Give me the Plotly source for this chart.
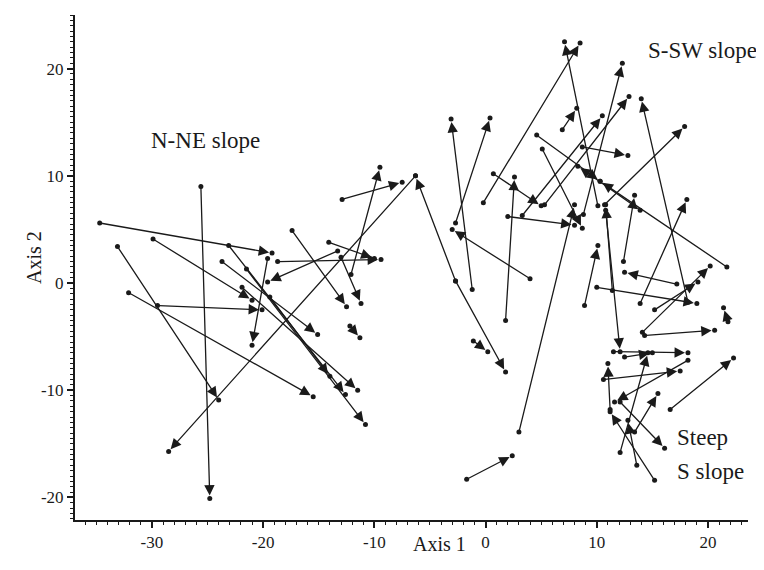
import plotly.graph_objects as go

# Arrow start (x_start, y_start) and end (x_end, y_end) in ordination-axis units
x_start = [-34.7, -25.6, -33.1, -32.1, -29.9, -29.5, -23.1, -23.7, -21.5, -21.9,
           -19.4, -6.3, -19.6, -13.3, -18.7, -14.1, -17.4, -13.0, -12.2, -12.9,
           -12.1, -2.7, -2.7, 4.0, -2.7, -1.2, -1.1, -1.7, 3.0, 1.8,
           2.0, -0.2, 10.1, 6.9, 4.6, 21.7, 5.1, 3.3, 5.3, 18.2,
           10.7, 8.7, 8.8, 13.9, 0.7, 8.9, 11.4, 10.8, 12.4, 17.2,
           10.0, 13.9, 14.1, 14.3, 21.8, 11.5, 12.5, 18.2, 11.2, 10.6,
           12.1, 13.4, 16.6, 12.1, 13.6, 15.2, 15.2]
y_start = [5.6, 9.0, 3.4, -0.9, 4.1, -2.1, 3.5, 2.0, 1.3, -0.4,
           -1.3, 10.0, 2.3, 3.0, 2.0, 3.8, 4.9, 2.4, -4.0, 7.8,
           0.8, 0.2, 0.2, 0.4, 5.6, -0.6, -5.4, -18.3, -13.9, -3.5,
           6.2, 7.5, 7.2, 14.3, 13.8, 1.5, 12.5, 6.3, 7.3, -1.8,
           7.3, 12.7, 6.4, 6.8, 10.2, -2.1, -0.7, 6.8, 2.0, -0.1,
           -0.4, -1.9, -4.6, -4.9, -3.6, -6.4, -6.9, -7.2, -11.8, -9.0,
           -15.8, -13.9, -11.8, -11.1, -17.0, -18.4, -2.5]
x_end = [-19.2, -24.8, -24.0, -15.5, -21.0, -20.1, -12.6, -15.1, -10.8, -11.5,
         -14.0, -28.5, -21.0, -19.6, -9.4, -10.0, -12.5, -11.2, -11.3, -7.5,
         -9.5, -6.3, 1.8, -3.0, 0.4, -3.1, 0.2, 2.4, 8.0, 2.6,
         8.0, 8.5, 7.1, 8.2, 10.3, 10.3, 8.7, 10.5, 12.9, 14.0,
         17.9, 12.8, 12.3, 8.3, 5.0, 10.1, 10.8, 12.1, 13.4, 12.5,
         19.0, 18.1, 20.2, 20.6, 21.4, 18.2, 15.0, 11.6, 11.0, 17.5,
         14.6, 15.5, 22.3, 16.1, 12.8, 11.2, 19.1]
y_end = [2.8, -20.1, -10.9, -10.6, -1.6, -2.5, -10.4, -4.8, -13.2, -10.0,
         -8.7, -15.7, -5.8, 0.1, 2.2, 2.3, -2.2, -1.9, -5.1, 9.4,
         10.8, 10.0, -8.3, 5.0, 15.4, 15.3, -6.4, -16.1, 7.3, 9.9,
         5.4, 22.4, 22.5, 16.3, 9.5, 9.5, 5.1, 15.6, 17.4, 17.2,
         14.6, 11.9, 20.5, 10.9, 7.2, 3.5, 7.3, -6.4, 8.2, 1.0,
         -1.9, 7.8, 1.6, -4.4, -2.3, -6.5, -6.5, -11.1, -7.5, -8.2,
         -6.5, -10.3, -7.0, -15.4, -12.8, -12.0, 0.1]

x_ticks = [-30, -20, -10, 0, 10, 20]
y_ticks = [-20, -10, 0, 10, 20]

labels = ["N-NE slope", "S-SW slope", "Steep", "S slope"]
label_x = [-25.2, 14.4, 17.0, 17.0]
label_y = [13.3, 21.7, -14.4, -17.6]
label_anchor = ["center", "left", "left", "left"]

FONT = "Liberation Serif, Times New Roman, serif"
INK = "#1a1a1a"

# page body has an 8px default margin, so the figure is drawn 8px smaller
OFF = 8
W, H = 764 - OFF, 570 - OFF
ml, mr, mt, mb = 75 - OFF, 16, 15 - OFF, 50
pw, ph = W - ml - mr, H - mt - mb

fig = go.Figure()
fig.add_trace(go.Scatter(
    x=x_start + x_end, y=y_start + y_end, mode="markers",
    marker=dict(color=INK, size=5), hoverinfo="skip", showlegend=False))

annotations = []
for xs, ys, xe, ye in zip(x_start, y_start, x_end, y_end):
    annotations.append(dict(
        x=xe, y=ye, ax=xs, ay=ys, xref="x", yref="y", axref="x", ayref="y",
        text="", showarrow=True, arrowhead=2, arrowsize=1.6, arrowwidth=1.3,
        arrowcolor=INK, standoff=3))

for t, lx, ly, an in zip(labels, label_x, label_y, label_anchor):
    annotations.append(dict(x=lx, y=ly, xref="x", yref="y", text=t, showarrow=False,
                            xanchor=an, yanchor="middle",
                            font=dict(family=FONT, size=23, color=INK)))

# axis titles placed at page-pixel positions
def px_to_paper(px, py):
    return (px - OFF - ml) / pw, (H - mb - (py - OFF)) / ph

ax1x, ax1y = px_to_paper(439, 557)
ax2x, ax2y = px_to_paper(21, 257)
annotations.append(dict(x=ax1x, y=ax1y, xref="paper", yref="paper", text="Axis 1",
                        showarrow=False, font=dict(family=FONT, size=20, color=INK)))
annotations.append(dict(x=ax2x, y=ax2y, xref="paper", yref="paper", text="Axis 2",
                        showarrow=False, textangle=-90,
                        font=dict(family=FONT, size=20, color=INK)))

fig.update_layout(
    width=W, height=H, margin=dict(l=ml, r=mr, t=mt, b=mb),
    paper_bgcolor="white", plot_bgcolor="white",
    annotations=annotations, showlegend=False,
    xaxis=dict(range=[-36.92, 23.6], tickvals=x_ticks, ticktext=[str(v) for v in x_ticks],
               showgrid=False, zeroline=False, showline=True, linecolor=INK, linewidth=2,
               ticks="outside", ticklen=6, tickwidth=1.5, tickcolor=INK,
               minor=dict(dtick=1, tick0=0, ticks="outside", ticklen=3, tickcolor=INK, tickwidth=1),
               tickfont=dict(family=FONT, size=17, color=INK)),
    yaxis=dict(range=[-22.1, 25.0], tickvals=y_ticks, ticktext=[str(v) for v in y_ticks],
               showgrid=False, zeroline=False, showline=True, linecolor=INK, linewidth=2,
               ticks="outside", ticklen=6, tickwidth=1.5, tickcolor=INK,
               minor=dict(dtick=0.5, tick0=0, ticks="outside", ticklen=3, tickcolor=INK, tickwidth=1),
               tickfont=dict(family=FONT, size=17, color=INK)),
)

fig.write_html("out.html")
